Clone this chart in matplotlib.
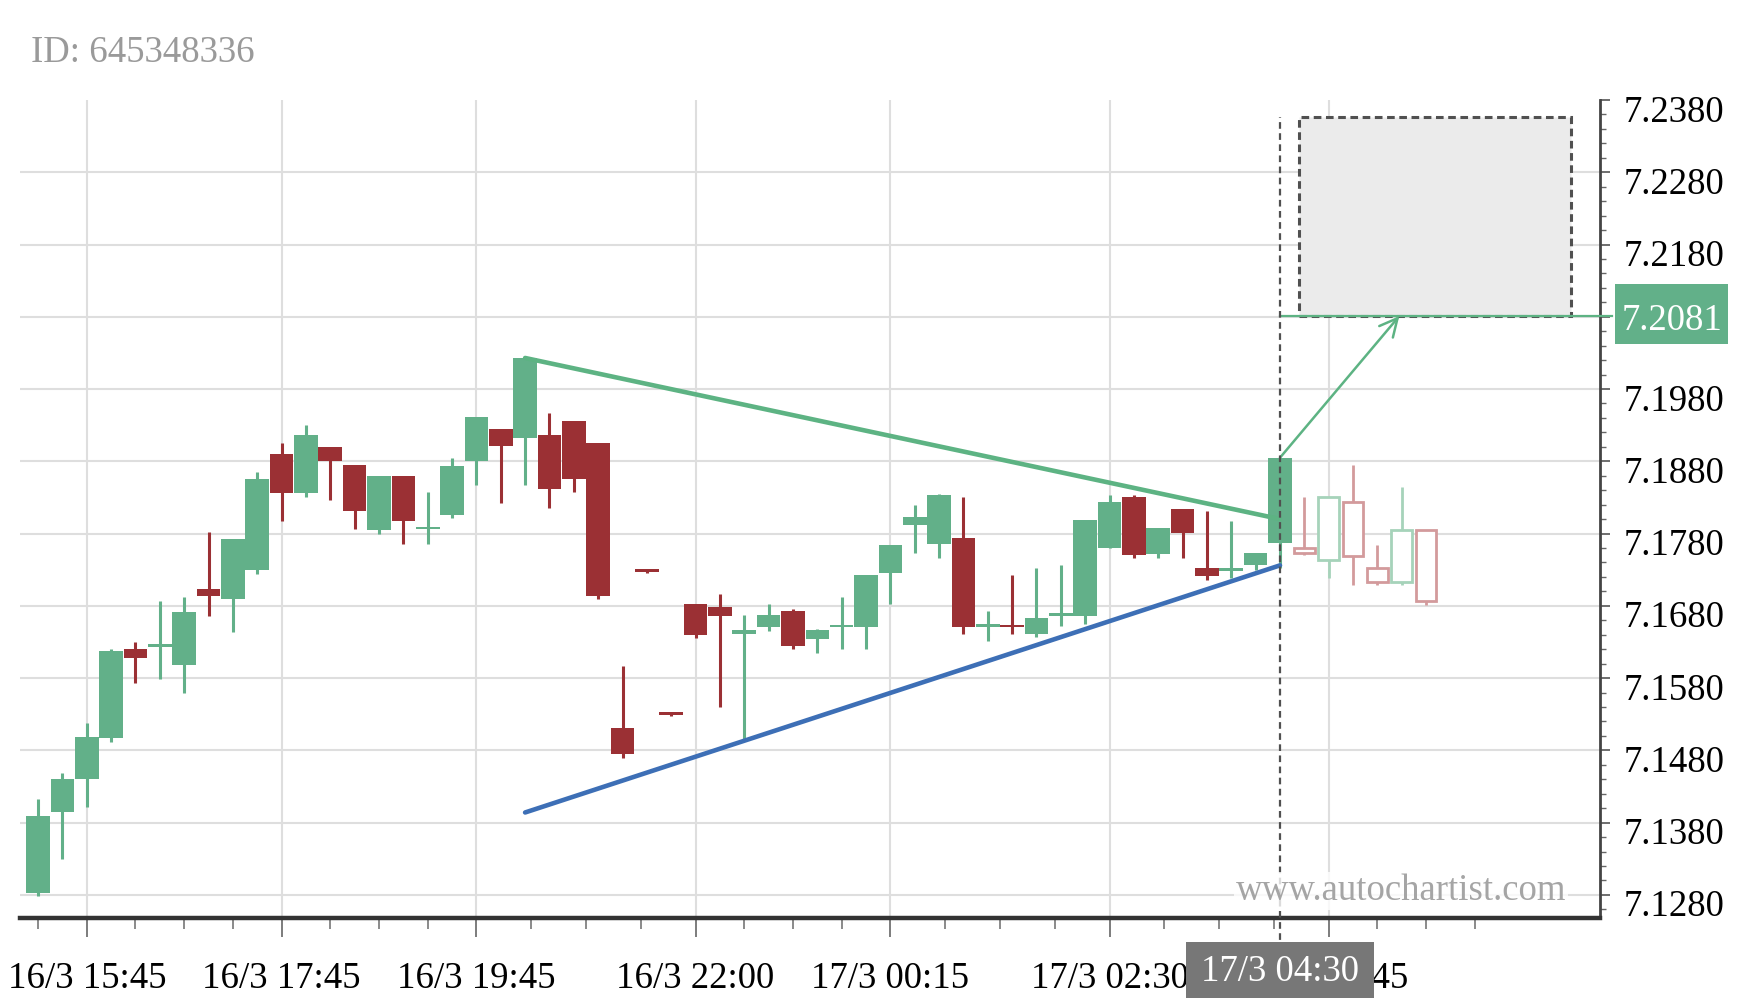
import matplotlib
matplotlib.use("Agg")
import matplotlib.pyplot as plt
import matplotlib.transforms as mtransforms
import numpy as np

plt.rcParams['font.family'] = ['Liberation Serif', 'DejaVu Serif']

# ---- data (15 min candles, x axis is candle index) ----
opens = [7.1282, 7.1395, 7.1441, 7.1497, 7.1620, 7.1623, 7.1598, 7.1703, 7.1690, 7.1729,
         7.1890, 7.1836, 7.1900, 7.1875, 7.1785, 7.1859, 7.1786, 7.1805, 7.1881, 7.1925,
         7.1912, 7.1916, 7.1936, 7.1906, 7.1511, 7.1729, 7.1531, 7.1683, 7.1678, 7.1641,
         7.1651, 7.1673, 7.1634, 7.1650, 7.1650, 7.1725, 7.1792, 7.1766, 7.1774, 7.1651,
         7.1653, 7.1641, 7.1666, 7.1666, 7.1760, 7.1830, 7.1752, 7.1814, 7.1733, 7.1728,
         7.1736, 7.1767]
highs = [7.1412, 7.1449, 7.1518, 7.1620, 7.1630, 7.1686, 7.1692, 7.1782, 7.1773, 7.1865,
         7.1906, 7.1930, 7.1900, 7.1875, 7.1859, 7.1859, 7.1838, 7.1884, 7.1941, 7.1925,
         7.2025, 7.1947, 7.1936, 7.1906, 7.1597, 7.1730, 7.1532, 7.1683, 7.1697, 7.1667,
         7.1682, 7.1676, 7.1648, 7.1692, 7.1723, 7.1764, 7.1819, 7.1835, 7.1830, 7.1673,
         7.1723, 7.1733, 7.1737, 7.1799, 7.1833, 7.1834, 7.1788, 7.1814, 7.1811, 7.1797,
         7.1753, 7.1885]
lows = [7.1279, 7.1330, 7.1401, 7.1492, 7.1573, 7.1579, 7.1559, 7.1666, 7.1644, 7.1724,
        7.1797, 7.1831, 7.1827, 7.1786, 7.1780, 7.1766, 7.1766, 7.1802, 7.1847, 7.1822,
        7.1847, 7.1816, 7.1837, 7.1690, 7.1470, 7.1726, 7.1528, 7.1636, 7.1540, 7.1494,
        7.1645, 7.1620, 7.1615, 7.1620, 7.1620, 7.1682, 7.1753, 7.1746, 7.1641, 7.1631,
        7.1641, 7.1637, 7.1652, 7.1655, 7.1760, 7.1746, 7.1746, 7.1746, 7.1716, 7.1718,
        7.1730, 7.1732]
closes = [7.1389, 7.1440, 7.1499, 7.1617, 7.1608, 7.1626, 7.1671, 7.1693, 7.1773, 7.1855,
          7.1836, 7.1916, 7.1881, 7.1811, 7.1859, 7.1797, 7.1788, 7.1874, 7.1941, 7.1901,
          7.2023, 7.1841, 7.1856, 7.1693, 7.1475, 7.1727, 7.1529, 7.1640, 7.1666, 7.1647,
          7.1667, 7.1624, 7.1647, 7.1652, 7.1723, 7.1764, 7.1803, 7.1834, 7.1651, 7.1653,
          7.1650, 7.1663, 7.1668, 7.1799, 7.1824, 7.1751, 7.1788, 7.1781, 7.1721, 7.1733,
          7.1753, 7.1885]

# candles after the breakout (drawn hollow)
fut_opens = [7.1760, 7.1743, 7.1824, 7.1733, 7.1713, 7.1785]
fut_highs = [7.1830, 7.1830, 7.1875, 7.1764, 7.1845, 7.1785]
fut_lows = [7.1750, 7.1718, 7.1709, 7.1709, 7.1709, 7.1681]
fut_closes = [7.1753, 7.1830, 7.1749, 7.1713, 7.1785, 7.1687]

tick_idx = [2, 10, 18, 27, 35, 44, 53]
tick_labels = ['16/3 15:45', '16/3 17:45', '16/3 19:45', '16/3 22:00',
               '17/3 00:15', '17/3 02:30', '17/3 04:45']

resist_x = [20, 51]
resist_y = [7.2023, 7.1800]
support_x = [20, 51]
support_y = [7.1394, 7.1736]
breakout_idx = 51
breakout_label = '17/3 04:30'
target = 7.2081
target_box_x = [51.78, 62.94]
target_box_y = [7.2081, 7.2357]
arrow_end_x = 55.9

GREEN = '#62b089'
RED = '#9b3034'
LINE_GREEN = '#5db383'
BLUE = '#3d6fb6'
FS = 26.5

fig = plt.figure(figsize=(17.59, 10.08), dpi=100)
ax = fig.add_axes([0.0114, 0.0893, 0.8982, 0.8115])

xmin, xmax = -0.74, 64.14
ymin, ymax = 7.1248, 7.2380

# ---- candles ----
o = np.array(opens); h = np.array(highs); l = np.array(lows); c = np.array(closes)
x = np.arange(len(o))
cols = np.where(c >= o, GREEN, RED)
ax.vlines(x, l, h, colors=cols, lw=2.2, zorder=3)
ax.bar(x, np.maximum(np.abs(c - o), 0.00035), bottom=np.minimum(o, c), width=0.97,
       color=cols, zorder=3)

fo = np.array(fut_opens); fh = np.array(fut_highs); fl = np.array(fut_lows); fc = np.array(fut_closes)
fx = np.arange(len(o), len(o) + len(fo))
fcols = np.where(fc >= fo, '#a6d3ba', '#d39a9c')
ax.vlines(fx, fl, fh, colors=fcols, lw=2.0, zorder=3)
ax.bar(fx, np.maximum(np.abs(fc - fo), 0.0004), bottom=np.minimum(fo, fc), width=0.85,
       color='white', edgecolor=fcols, linewidth=2.0, zorder=3)

# ---- pattern lines ----
ax.plot(resist_x, resist_y, color=LINE_GREEN, lw=3.3, solid_capstyle='round', zorder=4)
ax.plot(support_x, support_y, color=BLUE, lw=3.3, solid_capstyle='round', zorder=4)

# target area
ax.add_patch(plt.Rectangle((target_box_x[0], target_box_y[0]),
                           target_box_x[1] - target_box_x[0], target_box_y[1] - target_box_y[0],
                           facecolor='#ebebeb', edgecolor='#505050', ls=(0, (2.5, 1.5)), lw=2.2,
                           zorder=2))
ax.plot([breakout_idx, xmax + 0.5], [target, target], color=LINE_GREEN, lw=1.6,
        clip_on=False, zorder=4)
ax.annotate('', xy=(arrow_end_x, target), xytext=(breakout_idx, closes[breakout_idx]),
            arrowprops=dict(arrowstyle='->', color=LINE_GREEN, lw=1.8, mutation_scale=32,
                            shrinkA=0, shrinkB=0), zorder=4)

# breakout dashed line
top_frac = (target_box_y[1] - ymin) / (ymax - ymin)
ax.plot([breakout_idx, breakout_idx], [-0.04, top_frac], transform=ax.get_xaxis_transform(),
        color='#505050', lw=1.6, ls=(0, (3, 2)), clip_on=False, zorder=4)

# ---- axes styling ----
ax.set_xlim(xmin, xmax)
ax.set_ylim(ymin, ymax)

yt = np.round(np.arange(7.128, 7.2381, 0.01), 4)
ax.set_yticks(yt)
ax.set_yticklabels(['%.4f' % v for v in yt])
ax.set_yticks(np.round(np.arange(7.126, 7.2381, 0.002), 4), minor=True)
ax.yaxis.tick_right()

minor_x = [0]
for a, b in zip(tick_idx[:-1], tick_idx[1:]):
    minor_x += list(np.linspace(a, b, 5)[1:-1])
minor_x += [55, 57, 59]
ax.set_xticks(tick_idx)
ax.set_xticklabels(tick_labels)
ax.set_xticks(minor_x, minor=True)

ax.grid(True, which='major', color='#dedede', lw=1.5, zorder=0)
ax.yaxis.get_gridlines()[-1].set_visible(False)
ax.set_axisbelow(True)

for s in ['left', 'top']:
    ax.spines[s].set_visible(False)
ax.spines['bottom'].set_linewidth(3.2)
ax.spines['bottom'].set_color('#333333')
ax.spines['right'].set_linewidth(2.0)
ax.spines['right'].set_color('#444444')

ax.tick_params(axis='x', which='major', direction='out', length=14, width=1.2,
               color='#666666', pad=17, labelsize=FS)
ax.tick_params(axis='x', which='minor', direction='out', length=8, width=1.2, color='#777777')
ax.tick_params(axis='y', which='major', direction='out', length=7, width=1.2,
               color='#555555', pad=10, labelsize=FS, right=True, left=False)
ax.tick_params(axis='y', which='minor', direction='out', length=4, width=1.0,
               color='#666666', right=True, left=False)

# price labels sit a little below their grid line
shift = mtransforms.ScaledTranslation(0, -6 / 72, fig.dpi_scale_trans)
for lab in ax.get_yticklabels():
    lab.set_transform(lab.get_transform() + shift)

# target label on the right
ytr = ax.get_yaxis_transform()
ax.add_patch(plt.Rectangle((1.0096, target - 0.0039), 0.0715, 0.0084, transform=ytr,
                           facecolor=GREEN, edgecolor='none', clip_on=False, zorder=5))
ax.text(1.0454, target - 0.0006, '%.4f' % target, transform=ytr, color='white',
        fontsize=FS, va='center', ha='center', clip_on=False, zorder=6)

# breakout time label at the bottom
xtr = ax.get_xaxis_transform()
ax.add_patch(plt.Rectangle((breakout_idx - 3.84, -0.0978), 7.68, 0.0685, transform=xtr,
                           facecolor='#777777', edgecolor='none', clip_on=False, zorder=5))
ax.text(breakout_idx, -0.066, breakout_label, transform=xtr, color='white',
        fontsize=FS, va='center', ha='center', clip_on=False, zorder=6)

ax.text(0.9787, 7.1285, 'www.autochartist.com', transform=ytr,
        color='#a5a5a5', fontsize=FS, ha='right', va='center', zorder=5,
        bbox=dict(boxstyle='square,pad=0.05', fc='white', ec='none', alpha=0.8))

fig.text(0.0175, 1 - 47 / 899, 'ID: 645348336', color='#9a9a9a', fontsize=FS,
         ha='left', va='center')

fig.savefig('out.png', dpi=100)
